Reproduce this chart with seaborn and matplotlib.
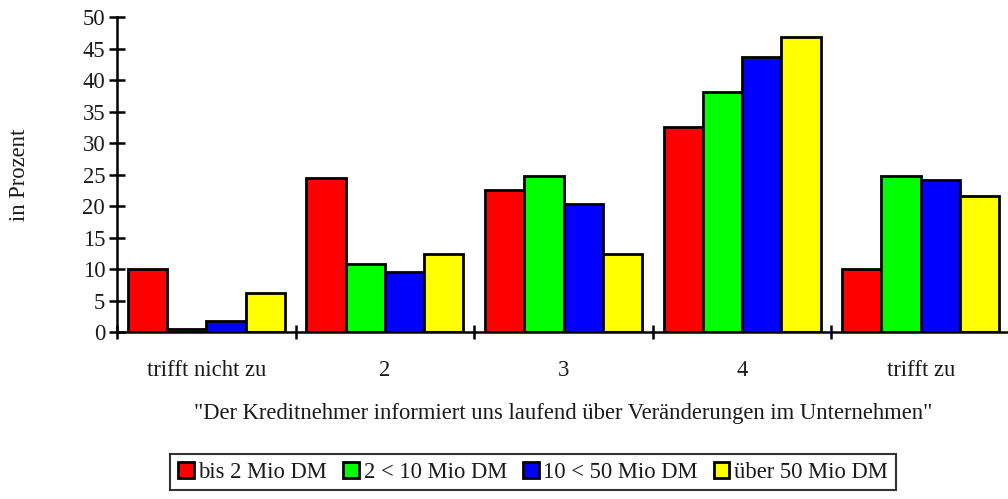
import matplotlib
matplotlib.use("Agg")
import matplotlib.pyplot as plt
import seaborn as sns
import pandas as pd
import numpy as np

categories = ["trifft nicht zu", "2", "3", "4", "trifft zu"]
series_names = ["bis 2 Mio DM", "2 < 10 Mio DM", "10 < 50 Mio DM", "über 50 Mio DM"]
bis_2 = [10.0, 24.5, 22.5, 32.5, 10.0]
von_2_bis_10 = [0.6, 10.9, 24.8, 38.1, 24.8]
von_10_bis_50 = [1.8, 9.6, 20.3, 43.7, 24.2]
ueber_50 = [6.2, 12.4, 12.4, 46.9, 21.6]
colors = ["#FF0000", "#00FF00", "#0000FF", "#FFFF00"]
y_ticks = [0, 5, 10, 15, 20, 25, 30, 35, 40, 45, 50]

rows = []
for name, vals in zip(series_names, [bis_2, von_2_bis_10, von_10_bis_50, ueber_50]):
    for cat, v in zip(categories, vals):
        rows.append({"Kategorie": cat, "Größe": name, "Prozent": v})
df = pd.DataFrame(rows)

sns.set_theme(style="white")
plt.rcParams["font.family"] = ["Liberation Serif", "DejaVu Serif"]

FS = 16.3
fig = plt.figure(figsize=(10.08, 4.99), dpi=100)
ax = fig.add_axes([117 / 1008, 1 - 332.3 / 499, 893 / 1008, 315.3 / 499])

sns.barplot(data=df, x="Kategorie", y="Prozent", hue="Größe",
            order=categories, hue_order=series_names,
            palette=colors, width=0.88, gap=0, saturation=1,
            edgecolor="black", linewidth=2.0, ax=ax, legend=True)

ax.set_xlim(-0.5, 4.5)
ax.set_ylim(0, 50)
ax.set_yticks(y_ticks)
ax.set_yticklabels([str(t) for t in y_ticks], fontsize=FS, color="#1a1a1a")

# group separators as major ticks, category names at group centres
ax.set_xticks(np.arange(-0.5, 5.0, 1.0))
ax.set_xticklabels([])
ax.set_xticks(np.arange(0, 5), minor=True)
ax.set_xticklabels(categories, minor=True, fontsize=FS, color="#1a1a1a")
ax.tick_params(axis="x", which="major", bottom=True, direction="inout",
               length=10, width=1.8, color="black")
ax.tick_params(axis="x", which="minor", bottom=True, length=0, pad=20)
ax.tick_params(axis="y", left=True, direction="inout", length=11, width=1.8,
               color="black", pad=3)

for side in ["top", "right"]:
    ax.spines[side].set_visible(False)
for side in ["left", "bottom"]:
    ax.spines[side].set_linewidth(1.8)
    ax.spines[side].set_color("black")

ax.set_xlabel('"Der Kreditnehmer informiert uns laufend über Veränderungen im Unternehmen"',
              fontsize=FS, color="#1a1a1a", labelpad=16)
ax.set_ylabel("in Prozent", fontsize=FS, color="#1a1a1a")
ax.yaxis.set_label_coords(-0.097, 0.5)

handles, labels = ax.get_legend_handles_labels()
ax.get_legend().remove()
leg = fig.legend(handles, labels, loc="center", bbox_to_anchor=(533 / 1008, 1 - 472 / 499),
                 ncol=4, fontsize=FS, frameon=True, fancybox=False,
                 handlelength=0.7, handleheight=0.7, handletextpad=0.2,
                 columnspacing=0.7, borderpad=0.35, borderaxespad=0)
leg.get_frame().set_edgecolor("black")
leg.get_frame().set_linewidth(1.5)
for t in leg.get_texts():
    t.set_color("#1a1a1a")

fig.savefig("out.png", dpi=100)
